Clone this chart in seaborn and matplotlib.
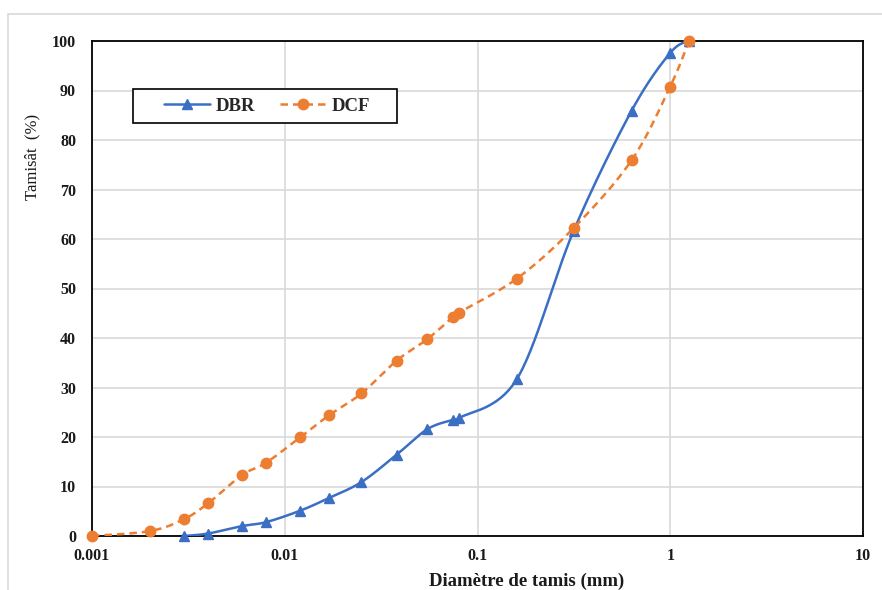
import numpy as np
import pandas as pd
import matplotlib
matplotlib.use("Agg")
import matplotlib.pyplot as plt
import seaborn as sns
from matplotlib.patches import Rectangle
from matplotlib.lines import Line2D

# ---- data ----
dbr_x = [0.003, 0.004, 0.006, 0.008, 0.012, 0.017, 0.025, 0.038, 0.055, 0.075, 0.08, 0.16, 0.315, 0.63, 1.0, 1.25]
dbr_y = [0.0, 0.5, 2.0, 2.8, 5.1, 7.7, 10.9, 16.4, 21.6, 23.5, 23.8, 31.7, 61.6, 85.9, 97.6, 100.0]
dcf_x = [0.001, 0.002, 0.003, 0.004, 0.006, 0.008, 0.012, 0.017, 0.025, 0.038, 0.055, 0.075, 0.08, 0.16, 0.315, 0.63, 1.0, 1.25]
dcf_y = [0.0, 1.0, 3.4, 6.6, 12.3, 14.8, 19.9, 24.4, 28.8, 35.4, 39.8, 44.3, 45.1, 52.0, 62.2, 75.9, 90.8, 100.0]
xticks = [0.001, 0.01, 0.1, 1, 10]
xtick_labels = ["0.001", "0.01", "0.1", "1", "10"]
yticks = list(range(0, 101, 10))

BLUE = "#3A6FC4"
ORANGE = "#ED7D31"

sns.set_theme(style="white")
plt.rcParams['font.family'] = ['Liberation Serif', 'DejaVu Serif']
plt.rcParams['font.weight'] = 'bold'

fig = plt.figure(figsize=(8.82, 5.90), dpi=100)
W, H = 882, 590
ax = fig.add_axes([92 / W, 1 - 536 / H, (863 - 92) / W, (536 - 41) / H])

# outer chart border (light gray), cut at right/bottom
fig.patches.append(Rectangle((8 / W, -0.1), 1.2, 1 - 14 / H + 0.1, transform=fig.transFigure,
                             fill=False, edgecolor="#D9D9D9", lw=1.2, zorder=0))

AXW, AXH = 771.0, 495.0


def smooth(xs, ys, n=30):
    # Excel-style smoothing (Catmull-Rom / Bezier) in display space
    u = (np.log10(xs) + 3) / 4 * AXW
    v = np.asarray(ys) / 100 * AXH
    P = np.column_stack([u, v])
    P = np.vstack([P[0], P, P[-1]])
    out = []
    for i in range(1, len(P) - 2):
        p0, p1, p2, p3 = P[i - 1], P[i], P[i + 1], P[i + 2]
        c1 = p1 + (p2 - p0) / 6
        c2 = p2 - (p3 - p1) / 6
        t = np.linspace(0, 1, n)[:, None]
        seg = ((1 - t) ** 3) * p1 + 3 * ((1 - t) ** 2) * t * c1 + 3 * (1 - t) * t ** 2 * c2 + t ** 3 * p2
        out.append(seg if i == 1 else seg[1:])
    out = np.vstack(out)
    xx = 10 ** (out[:, 0] / AXW * 4 - 3)
    yy = out[:, 1] / AXH * 100
    return xx, yy


df_dbr = pd.DataFrame({"x": dbr_x, "y": dbr_y})
df_dcf = pd.DataFrame({"x": dcf_x, "y": dcf_y})

sx, sy = smooth(np.array(dbr_x), dbr_y)
cx, cy = smooth(np.array(dcf_x), dcf_y)
sm_dbr = pd.DataFrame({"x": sx, "y": sy})
sm_dcf = pd.DataFrame({"x": cx, "y": cy})

sns.lineplot(data=sm_dbr, x="x", y="y", ax=ax, color=BLUE, lw=1.8, sort=False, estimator=None, zorder=3)
sns.lineplot(data=sm_dcf, x="x", y="y", ax=ax, color=ORANGE, lw=1.8, sort=False, estimator=None, zorder=3)
ax.lines[-1].set_linestyle((0, (3, 2)))

ax.plot(df_dbr["x"], df_dbr["y"], ls="none", marker="^", ms=7, color=BLUE, mec=BLUE, zorder=4, clip_on=False)
ax.plot(df_dcf["x"], df_dcf["y"], ls="none", marker="o", ms=7.5, color=ORANGE, mec=ORANGE, zorder=5, clip_on=False)

ax.set_xscale("log")
ax.set_xlim(0.001, 10)
ax.set_ylim(0, 100)
ax.set_xticks(xticks)
ax.set_xticklabels(xtick_labels)
ax.set_yticks(yticks)
ax.xaxis.set_minor_locator(matplotlib.ticker.NullLocator())
ax.grid(True, which="major", color="#D9D9D9", lw=1.2)
ax.set_axisbelow(True)
for s in ax.spines.values():
    s.set_color("black")
    s.set_linewidth(1.3)
ax.tick_params(axis="both", length=0, labelsize=11.5, colors="#1a1a1a")
ax.tick_params(axis="y", pad=11.5)
ax.tick_params(axis="x", pad=9)
for lab in ax.get_xticklabels() + ax.get_yticklabels():
    lab.set_fontweight("bold")

ax.set_xlabel("Diamètre de tamis (mm)", fontsize=13.5, fontweight="bold", va="center", color="#1a1a1a")
ax.xaxis.set_label_coords((527 - 92) / AXW, (536 - 581) / AXH)
ax.set_ylabel("Tamisât  (%)", fontsize=12, fontweight="normal", color="#1a1a1a", va="center")
ax.yaxis.set_label_coords((32 - 92) / AXW, (536 - 157) / AXH)

# legend box
ax.add_patch(Rectangle(((133 - 92) / AXW, (536 - 123) / AXH), 264 / AXW, 34 / AXH,
                       transform=ax.transAxes, facecolor="white", edgecolor="black",
                       lw=1.2, zorder=6, clip_on=False))
h1 = Line2D([], [], color=BLUE, lw=1.8, marker="^", ms=7)
h2 = Line2D([], [], color=ORANGE, lw=1.8, ls=(0, (3, 2)), marker="o", ms=7.5)
leg = ax.legend([h1, h2], ["DBR", "DCF"], ncol=2, loc="center left",
                bbox_to_anchor=((164 - 92) / AXW, (536 - 106) / AXH),
                frameon=False, prop={"weight": "bold", "size": 13.5}, handlelength=2.45,
                columnspacing=1.35, borderpad=0, handletextpad=0.3, borderaxespad=0)
leg.set_zorder(7)

fig.savefig("out.png", dpi=100, facecolor="white")
